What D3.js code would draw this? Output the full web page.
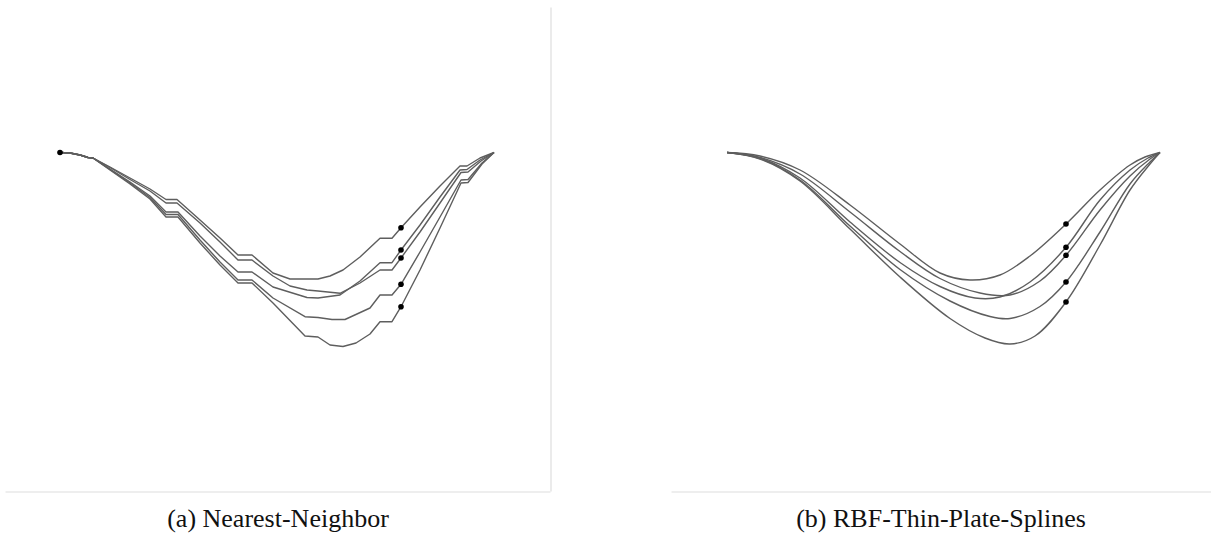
<!DOCTYPE html>
<html>
<head>
<meta charset="utf-8">
<script src="https://cdn.jsdelivr.net/npm/d3@7/dist/d3.min.js"></script>
<style>
  html, body { margin: 0; padding: 0; background: #fff; }
  svg { display: block; }
  .caption { font-family: "Liberation Serif", "Times New Roman", serif; font-size: 26px; fill: #111; }
  .frame .domain { stroke: #dedede; stroke-width: 1.2; }
  .traj { fill: none; stroke: #5e5e5e; stroke-width: 1.4; stroke-linejoin: round; }
</style>
</head>
<body>
<svg id="chart" width="1211" height="538"></svg>
<script>
// Trajectories in plane coordinates: x along the path, y = depth below the start point.
// Five runs share the same start and goal; each passes a different via point.

// (a) nearest-neighbour reconstruction, piecewise with flat steps
const nnA = [[0,0],[10,0.5],[20,2.5],[28,5],[33,5.5],[50,14.5],[70,25.5],[90,36.5],[106,47],[117,47],[140,67.5],[160,85.5],[178,102.5],[192,102.5],[213,120.5],[230,126.5],[258,126.5],[270,123.5],[283,117.5],[300,104.5],[320,85.8],[332,85.8],[341,75.2],[360,54.5],[380,33.5],[400,13.5],[407,13.5],[420,5.5],[434,0]];
const nnB = [[0,0],[10,0.5],[20,2.5],[28,5],[33,5.5],[50,16.5],[70,29.5],[90,43.5],[106,59.5],[118,59.5],[140,83.5],[160,103.5],[178,119.5],[192,119.5],[213,134.5],[247,145],[258,145.5],[280,142.5],[300,128.5],[320,110.2],[332,110.2],[341,97.5],[360,72.5],[380,44.5],[400,17.5],[407,17],[420,7.5],[434,0]];
const nnC = [[0,0],[10,0.5],[20,2.5],[28,5],[33,5.5],[50,15],[70,27],[90,38.5],[106,50.5],[117,50.5],[140,70.5],[160,89.5],[178,107.5],[192,107.5],[213,123.5],[230,133.5],[247,137.5],[258,138.5],[280,140.8],[300,130.5],[320,117.5],[332,117.5],[341,105.5],[360,79.5],[380,50.5],[401,20],[408,19.5],[421,8.5],[434,0]];
const nnD = [[0,0],[10,0.5],[20,2.5],[28,5],[33,5.5],[50,17],[70,30.5],[90,45],[106,62],[118,62],[140,87.5],[160,109.5],[178,127.5],[192,127.5],[213,145.5],[245,164.2],[258,165],[272,167],[285,167],[310,155.5],[320,142.5],[332,142.5],[341,131.8],[360,99.5],[380,64.5],[401,27.5],[408,27],[422,10.5],[434,0]];
const nnE = [[0,0],[10,0.5],[20,2.5],[28,5],[33,5.5],[50,17.5],[70,31.5],[90,46.5],[106,64.5],[118,64.5],[140,90.5],[160,112.5],[178,130.5],[192,130.5],[213,150.5],[245,183.5],[258,184.5],[270,192.5],[283,194],[296,190.5],[310,181.5],[320,169.2],[332,169.2],[341,154.2],[360,117.5],[380,75.5],[401,30.5],[408,30],[422,11.5],[434,0]];
const nnStart = [0, 0];
const nnVia = [[341,75.2],[341,97.5],[341,105.5],[341,131.8],[341,154.2]];

// (b) thin-plate-spline reconstruction, smooth
const tpsA = [[0,0],[33,3.5],[73,17.5],[123,52.5],[173,91.5],[213,120.5],[243,127.5],[273,122.5],[303,103.5],[339,71.5],[373,37.5],[403,12.5],[418,4.5],[433,0]];
const tpsB = [[0,0],[33,5.5],[73,25.5],[123,69.5],[173,110],[213,134],[248,145.5],[273,144.5],[303,129.5],[339,94.8],[373,47.5],[403,17.5],[421,5.5],[433,0]];
const tpsC = [[0,0],[33,5],[73,21.5],[123,59.5],[173,99],[213,126],[253,140.5],[283,142.5],[313,128.5],[339,102.8],[373,57.5],[403,23.5],[423,6.5],[433,0]];
const tpsD = [[0,0],[33,6],[73,27.5],[123,73.5],[173,117],[223,148.5],[263,164],[283,166],[313,154],[339,129.5],[373,79.5],[403,31.5],[423,9.5],[433,0]];
const tpsE = [[0,0],[33,6.5],[73,28.5],[123,76.5],[173,124.5],[223,166],[258,185.5],[283,191.5],[308,183.5],[339,149.5],[373,92.5],[403,37.5],[423,11.5],[433,0]];
const tpsVia = [[339,71.5],[339,94.8],[339,102.8],[339,129.5],[339,149.5]];

const captions = ["(a) Nearest-Neighbor", "(b) RBF-Thin-Plate-Splines"];

const svg = d3.select("#chart");

// equal-aspect view windows for the two panels
const panels = [
  { x: d3.scaleLinear().domain([-55, 490]).range([5, 550]),
    y: d3.scaleLinear().domain([-145.5, 338.5]).range([7, 491]),
    runs: [nnA, nnB, nnC, nnD, nnE], via: nnVia, start: nnStart,
    curve: d3.curveLinear, caption: captions[0], cx: 278, rightEdge: true },
  { x: d3.scaleLinear().domain([-56, 484]).range([671, 1211]),
    y: d3.scaleLinear().domain([-145.5, 338.5]).range([7, 491]),
    runs: [tpsA, tpsB, tpsC, tpsD, tpsE], via: tpsVia, start: null,
    curve: d3.curveCatmullRom.alpha(0.5), caption: captions[1], cx: 941, rightEdge: false }
];

panels.forEach(p => {
  const g = svg.append("g");

  // light frame: bottom edge (and right edge on the first panel)
  g.append("g").attr("class", "frame")
    .attr("transform", `translate(0,${p.y.range()[1] + 0.5})`)
    .call(d3.axisBottom(p.x).ticks(0).tickSizeOuter(0));
  if (p.rightEdge) {
    g.append("g").attr("class", "frame")
      .attr("transform", `translate(${p.x.range()[1] + 0.5},0)`)
      .call(d3.axisRight(p.y).ticks(0).tickSizeOuter(0));
  }

  const line = d3.line().x(d => p.x(d[0])).y(d => p.y(d[1])).curve(p.curve);

  g.selectAll("path.traj").data(p.runs).join("path")
    .attr("class", "traj")
    .attr("d", line);

  const pts = p.start ? [p.start].concat(p.via) : p.via;
  g.selectAll("circle").data(pts).join("circle")
    .attr("cx", d => p.x(d[0]))
    .attr("cy", d => p.y(d[1]))
    .attr("r", 2.8)
    .attr("fill", "#000");

  svg.append("text").attr("class", "caption")
    .attr("x", p.cx).attr("y", 527)
    .attr("text-anchor", "middle")
    .text(p.caption);
});
</script>
</body>
</html>
